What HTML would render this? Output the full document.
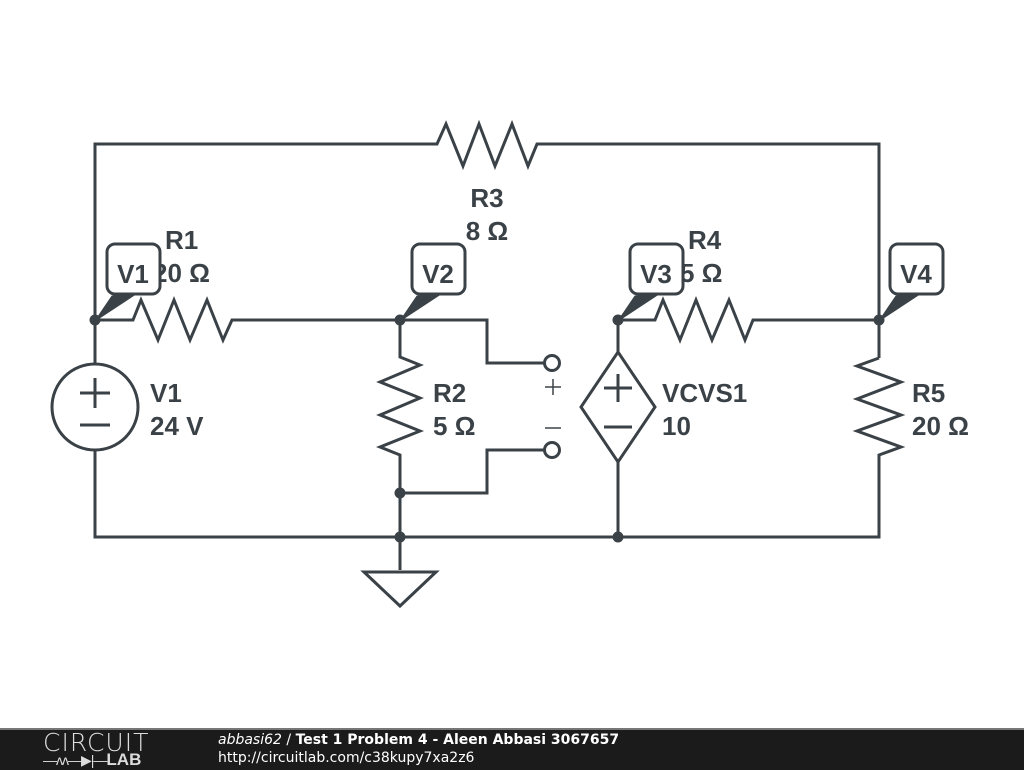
<!DOCTYPE html>
<html><head><meta charset="utf-8"><style>
html,body{margin:0;padding:0;background:#fff;}
body{width:1024px;height:768px;overflow:hidden;position:relative;font-family:"Liberation Sans",sans-serif;}
svg text{font-family:"Liberation Sans",sans-serif;font-weight:bold;font-size:26px;fill:#3b4247;}
.footer{position:absolute;left:0;top:728px;width:1024px;height:40px;background:#1b1b1b;border-top:2px solid #777;}
</style></head><body>
<svg width="1024" height="728" viewBox="0 0 1024 728" style="position:absolute;left:0;top:0">
<g fill="none" stroke="#3b4247" stroke-width="3" stroke-linejoin="miter">
<polyline points="95,364 95,144 437,144 446,124 463,166 479,124 495,166 512,124 528,166 537,144 879,144 879,358"/>
<polyline points="95,320 133,320 141,300 158,340 174,300 190,340 207,300 223,340 232,320 487,320 487,363 545,363"/>
<polyline points="618,352 618,320 655,320 663,300 680,340 696,300 712,340 729,300 745,340 753,320 879,320"/>
<polyline points="400,320 400,357 420,365 380,382 420,398 380,415 420,431 380,447 400,455 400,570"/>
<polyline points="400,493 487,493 487,450 545,450"/>
<polyline points="879,358 857,366 901,382 857,399 901,415 857,431 901,447 879,455 879,537 95,537 95,450"/>
<polygon points="618,352 655,407 618,462 581,407"/>
<line x1="618" y1="462" x2="618" y2="537"/>
<circle cx="95" cy="407" r="43"/>
<polygon points="364,572 436,572 400,606"/>
<circle cx="552" cy="363" r="7.5" fill="#fff"/>
<circle cx="552" cy="450" r="7.5" fill="#fff"/>
<line x1="80" y1="393" x2="110" y2="393"/><line x1="95" y1="378" x2="95" y2="408"/>
<line x1="80" y1="425" x2="110" y2="425"/>
<line x1="604" y1="388" x2="632" y2="388"/><line x1="618" y1="374" x2="618" y2="402"/>
<line x1="604" y1="427" x2="632" y2="427"/>
</g>
<g fill="none" stroke="#3b4247" stroke-width="1.5">
<line x1="545" y1="387" x2="561" y2="387"/><line x1="553" y1="379" x2="553" y2="395"/>
<line x1="545" y1="428" x2="561" y2="428"/>
</g>
<g fill="#3b4247">
<circle cx="95" cy="320" r="5.5"/><circle cx="400" cy="320" r="5.5"/><circle cx="618" cy="320" r="5.5"/><circle cx="879" cy="320" r="5.5"/>
<circle cx="400" cy="493" r="5.5"/><circle cx="400" cy="537" r="5.5"/><circle cx="618" cy="537" r="5.5"/>
</g>
<text x="487" y="207" text-anchor="middle">R3</text>
<text x="487" y="240" text-anchor="middle">8 Ω</text>
<text x="165" y="249">R1</text>
<text x="153" y="282">20 Ω</text>
<text x="688" y="249">R4</text>
<text x="680" y="282">5 Ω</text>
<text x="150" y="402">V1</text>
<text x="150" y="435">24 V</text>
<text x="433" y="402">R2</text>
<text x="433" y="435">5 Ω</text>
<text x="662" y="402">VCVS1</text>
<text x="662" y="435">10</text>
<text x="912" y="402">R5</text>
<text x="912" y="435">20 Ω</text>
<g stroke="#3b4247" stroke-width="3">
<polygon points="95,321 112,296 136,294" fill="#3b4247" stroke-width="1"/>
<rect x="107" y="244" width="53" height="50" rx="8" fill="#fff"/>
<polygon points="400,321 417,296 441,294" fill="#3b4247" stroke-width="1"/>
<rect x="412" y="244" width="53" height="50" rx="8" fill="#fff"/>
<polygon points="618,321 635,296 659,294" fill="#3b4247" stroke-width="1"/>
<rect x="630" y="244" width="53" height="50" rx="8" fill="#fff"/>
<polygon points="879,321 896,296 920,294" fill="#3b4247" stroke-width="1"/>
<rect x="890" y="244" width="53" height="50" rx="8" fill="#fff"/>
</g>
<text x="133" y="283" text-anchor="middle">V1</text>
<text x="438" y="283" text-anchor="middle">V2</text>
<text x="656" y="283" text-anchor="middle">V3</text>
<text x="916" y="283" text-anchor="middle">V4</text>
</svg>
<div class="footer">
<div style="position:absolute;left:43px;top:0px;color:#ddd;font-size:25px;letter-spacing:1px;font-family:'DejaVu Sans',sans-serif;font-weight:200;line-height:26px;">CIRCUIT</div>
<div style="position:absolute;left:43px;top:22px;color:#ddd;font-size:14px;line-height:16px;font-family:'Liberation Sans',sans-serif;"><span style="letter-spacing:-1px">—ᴧᴧ—▶|—</span><b style="font-size:17px;">LAB</b></div>
<div style="position:absolute;left:218px;top:2px;color:#fff;font-size:14px;line-height:17px;font-family:'DejaVu Sans',sans-serif;"><i>abbasi62</i> / <b>Test 1 Problem 4 - Aleen Abbasi 3067657</b></div>
<div style="position:absolute;left:218px;top:20px;color:#fff;font-size:14px;line-height:17px;font-family:'DejaVu Sans',sans-serif;">http://circuitlab.com/c38kupy7xa2z6</div>
</div>
</body></html>
